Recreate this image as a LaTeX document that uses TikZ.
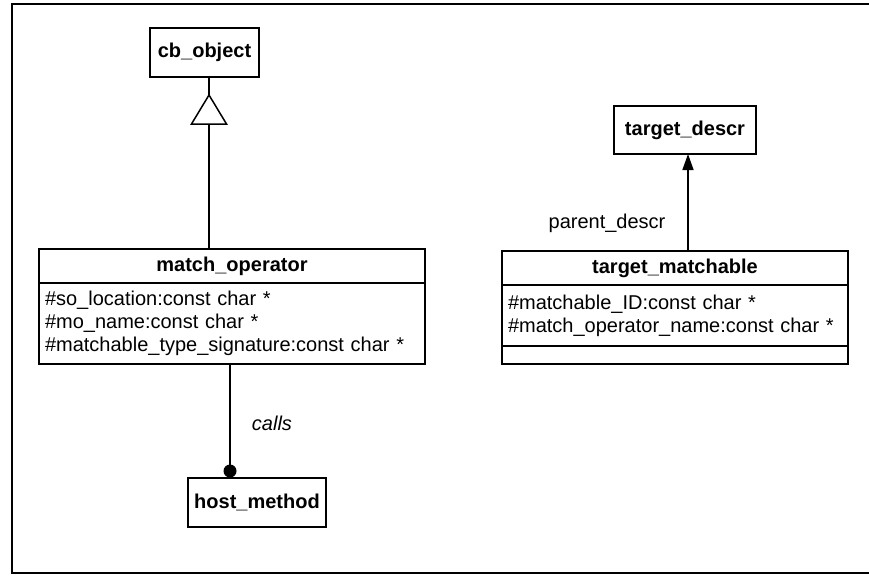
\documentclass[tikz,border=0pt]{standalone}
\usepackage{fontspec}
\setmainfont{Liberation Sans}
\usetikzlibrary{arrows.meta,calc}
\begin{document}
\begin{tikzpicture}[x=1pt,y=-1pt,
  every node/.style={font=\fontsize{20}{23}\selectfont, inner sep=0pt, outer sep=0pt},
  box/.style={draw, line width=1.5pt, rectangle, anchor=north west},
  title/.style={box, font=\fontsize{20}{23}\selectfont\bfseries},
  attrs/.style={box, align=left, inner xsep=6pt},
  link/.style={line width=1.5pt},
  lbl/.style={font=\fontsize{20}{23}\selectfont}]
\useasboundingbox (0,0) rectangle (869,575);

% outer frame (open on the right)
\draw[line width=2.5pt] (880,4) -- (12,4) -- (12,573) -- (880,573);

% classes
\node[title, minimum width=109, minimum height=49] (cb) at (150,28) {cb\_object};

\node[title, minimum width=386, minimum height=34] (mo) at (39,249) {match\_operator};
\node[attrs, minimum width=386, minimum height=81, text width=374pt] (moA) at (mo.south west)
  {\#so\_location:const char *\\ \#mo\_name:const char *\\ \#matchable\_type\_signature:const char *};

\node[title, minimum width=138, minimum height=49] (hm) at (188,478) {host\_method};

\node[title, minimum width=142, minimum height=48] (td) at (614,106) {target\_descr};

\node[title, minimum width=346, minimum height=34] (tm) at (502,251) {target\_matchable};
\node[attrs, minimum width=346, minimum height=61, text width=334pt] (tmA) at (tm.south west)
  {\#matchable\_ID:const char *\\ \#match\_operator\_name:const char *};
\node[box, minimum width=346, minimum height=18] (tmO) at (tmA.south west) {};

% generalization: match_operator -> cb_object
\coordinate (gtip) at (209,95);
\coordinate (gbase) at (209,124);
\draw[link] (gbase |- mo.north) -- (gbase);
\draw[link] (gtip) -- (gtip |- cb.south);
\draw[link, line join=miter] ($(gbase)+(-17.5,0)$) -- (gtip) -- ($(gbase)+(17.5,0)$) -- cycle;

% calls: match_operator -> host_method
\coordinate (cl) at (230,0);
\draw[link] (cl |- moA.south) -- (cl |- hm.north);
\fill ($(cl |- hm.north)+(0,-7)$) circle (6.5pt);
\node[lbl, font=\fontsize{20}{23}\selectfont\itshape] (callsL) at (272,423) {calls};

% parent_descr: target_matchable -> target_descr
\coordinate (pd) at (688,0);
\draw[link, -{Triangle[length=16pt,width=11pt]}] (pd |- tm.north) -- (pd |- td.south);
\node[lbl] (pdL) at (607,223) {parent\_descr};
\end{tikzpicture}
\end{document}
